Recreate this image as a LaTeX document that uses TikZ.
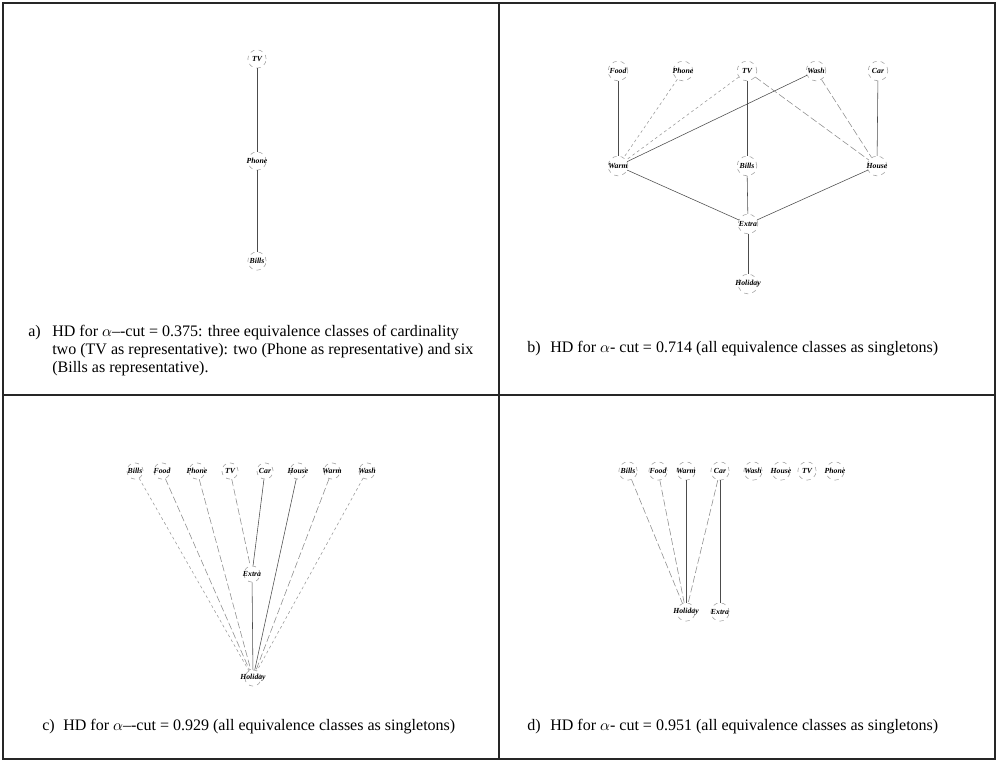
\documentclass[tikz,border=0pt]{standalone}
\usepackage{fontspec}
\setmainfont{Liberation Serif}
\usepackage{xcolor}
\usetikzlibrary{positioning}

\begin{document}
\begin{tikzpicture}[
        x=0.025cm, y=-0.025cm,
        node distance=1cm and 1cm, on grid,
        vtx/.style={circle, draw=gray!75, dashed, thin, minimum size=13pt, inner sep=0pt,
            label={[font=\fontsize{5.5}{6}\selectfont\bfseries\itshape, inner sep=0pt]center:#1}},
        bigvtx/.style={vtx=#1, minimum size=14pt},
        smallvtx/.style={vtx=#1, minimum size=11.5pt},
        link/.style={draw=black!70, thin},
        faint/.style={draw=black!45, thin, dash pattern=on 5pt off 2pt},
        dotty/.style={draw=black!40, thin, dash pattern=on 2pt off 2pt},
        frame/.style={draw=black!85, line width=0.9pt},
        caption/.style={font=\fontsize{11.4}{13}\selectfont, inner sep=0pt, anchor=base west, align=left}
        ]
        \useasboundingbox (0,0) rectangle (999,761);

        % Frame of the four panels
        \draw [frame] (3,3) rectangle (995,759);
        \draw [frame] (499,3) -- (499,759);
        \draw [frame] (3,395) -- (995,395);

        % a) alpha-cut 0.375
        \node (aTV) [vtx=TV] at (257,59) {};
        \node (aPhone) [vtx=Phone, below=2.55cm of aTV] {};
        \node (aBills) [vtx=Bills, below=2.5cm of aPhone] {};

        \draw [link] (aTV) -- (aPhone);
        \draw [link] (aPhone) -- (aBills);

        % the base of a three-line node is its last line
        \node (capA) [caption] at (28,336) {a)};
        \node (txtA) [caption] at (52,372.6) {HD for $\alpha$\textendash-cut = 0.375: three equivalence classes of cardinality\\
            two (TV as representative): two (Phone as representative) and six\\
            (Bills as representative).};

        % b) alpha-cut 0.714
        \node (bFood) [bigvtx=Food] at (618,71) {};
        \node (bPhone) [bigvtx=Phone] at (683,71) {};
        \node (bTV) [bigvtx=TV] at (747,71) {};
        \node (bWash) [bigvtx=Wash] at (816,71) {};
        \node (bCar) [bigvtx=Car] at (878,71) {};
        \node (bWarm) [bigvtx=Warm] at (618,166) {};
        \node (bBills) [bigvtx=Bills] at (747,166) {};
        \node (bHouse) [bigvtx=House] at (877,166) {};
        \node (bExtra) [bigvtx=Extra] at (748,224) {};
        \node (bHoliday) [bigvtx=Holiday, below=1.5cm of bExtra] {};

        \draw [link] (bFood) -- (bWarm);
        \draw [dotty] (bPhone) -- (bWarm);
        \draw [dotty] (bTV) -- (bWarm);
        \draw [link] (bWash) -- (bWarm);
        \draw [link] (bTV) -- (bBills);
        \draw [faint] (bTV) -- (bHouse);
        \draw [faint] (bWash) -- (bHouse);
        \draw [link] (bCar) -- (bHouse);
        \draw [link] (bWarm) -- (bExtra);
        \draw [link] (bBills) -- (bExtra);
        \draw [link] (bHouse) -- (bExtra);
        \draw [link] (bExtra) -- (bHoliday);

        \node (capB) [caption] at (527,352) {b)};
        \node (txtB) [caption] at (550,352) {HD for $\alpha$- cut = 0.714 (all equivalence classes as singletons)};

        % c) alpha-cut 0.929
        \node (cBills) [smallvtx=Bills] at (135,471) {};
        \node (cFood) [smallvtx=Food] at (162,471) {};
        \node (cPhone) [smallvtx=Phone] at (197,471) {};
        \node (cTV) [smallvtx=TV] at (230,471) {};
        \node (cCar) [smallvtx=Car] at (265,471) {};
        \node (cHouse) [smallvtx=House] at (298,471) {};
        \node (cWarm) [smallvtx=Warm] at (332,471) {};
        \node (cWash) [smallvtx=Wash] at (367,471) {};
        \node (cExtra) [smallvtx=Extra] at (252,574) {};
        \node (cHoliday) [smallvtx=Holiday] at (253,678) {};

        \draw [dotty] (cBills) -- (cHoliday);
        \draw [faint] (cFood) -- (cHoliday);
        \draw [faint] (cPhone) -- (cHoliday);
        \draw [faint] (cTV) -- (cExtra);
        \draw [link] (cCar) -- (cExtra);
        \draw [link] (cHouse) -- (cHoliday);
        \draw [faint] (cWarm) -- (cHoliday);
        \draw [dotty] (cWash) -- (cHoliday);
        \draw [link] (cExtra) -- (cHoliday);

        \node (capC) [caption] at (42,730) {c)};
        \node (txtC) [caption] at (63,730) {HD for $\alpha$\textendash-cut = 0.929 (all equivalence classes as singletons)};

        % d) alpha-cut 0.951
        \node (dBills) [vtx=Bills] at (628,471) {};
        \node (dFood) [vtx=Food] at (658,471) {};
        \node (dWarm) [vtx=Warm] at (686,471) {};
        \node (dCar) [vtx=Car] at (720,471) {};
        \node (dWash) [vtx=Wash] at (753,471) {};
        \node (dHouse) [vtx=House] at (781,471) {};
        \node (dTV) [vtx=TV] at (807,471) {};
        \node (dPhone) [vtx=Phone] at (835,471) {};
        \node (dHoliday) [vtx=Holiday] at (686,612) {};
        \node (dExtra) [vtx=Extra] at (720,612) {};

        \draw [faint] (dBills) -- (dHoliday);
        \draw [faint] (dFood) -- (dHoliday);
        \draw [link] (dWarm) -- (dHoliday);
        \draw [faint] (dCar) -- (dHoliday);
        \draw [link] (dCar) -- (dExtra);

        \node (capD) [caption] at (527,730) {d)};
        \node (txtD) [caption] at (550,730) {HD for $\alpha$- cut = 0.951 (all equivalence classes as singletons)};

    \end{tikzpicture}
\end{document}
